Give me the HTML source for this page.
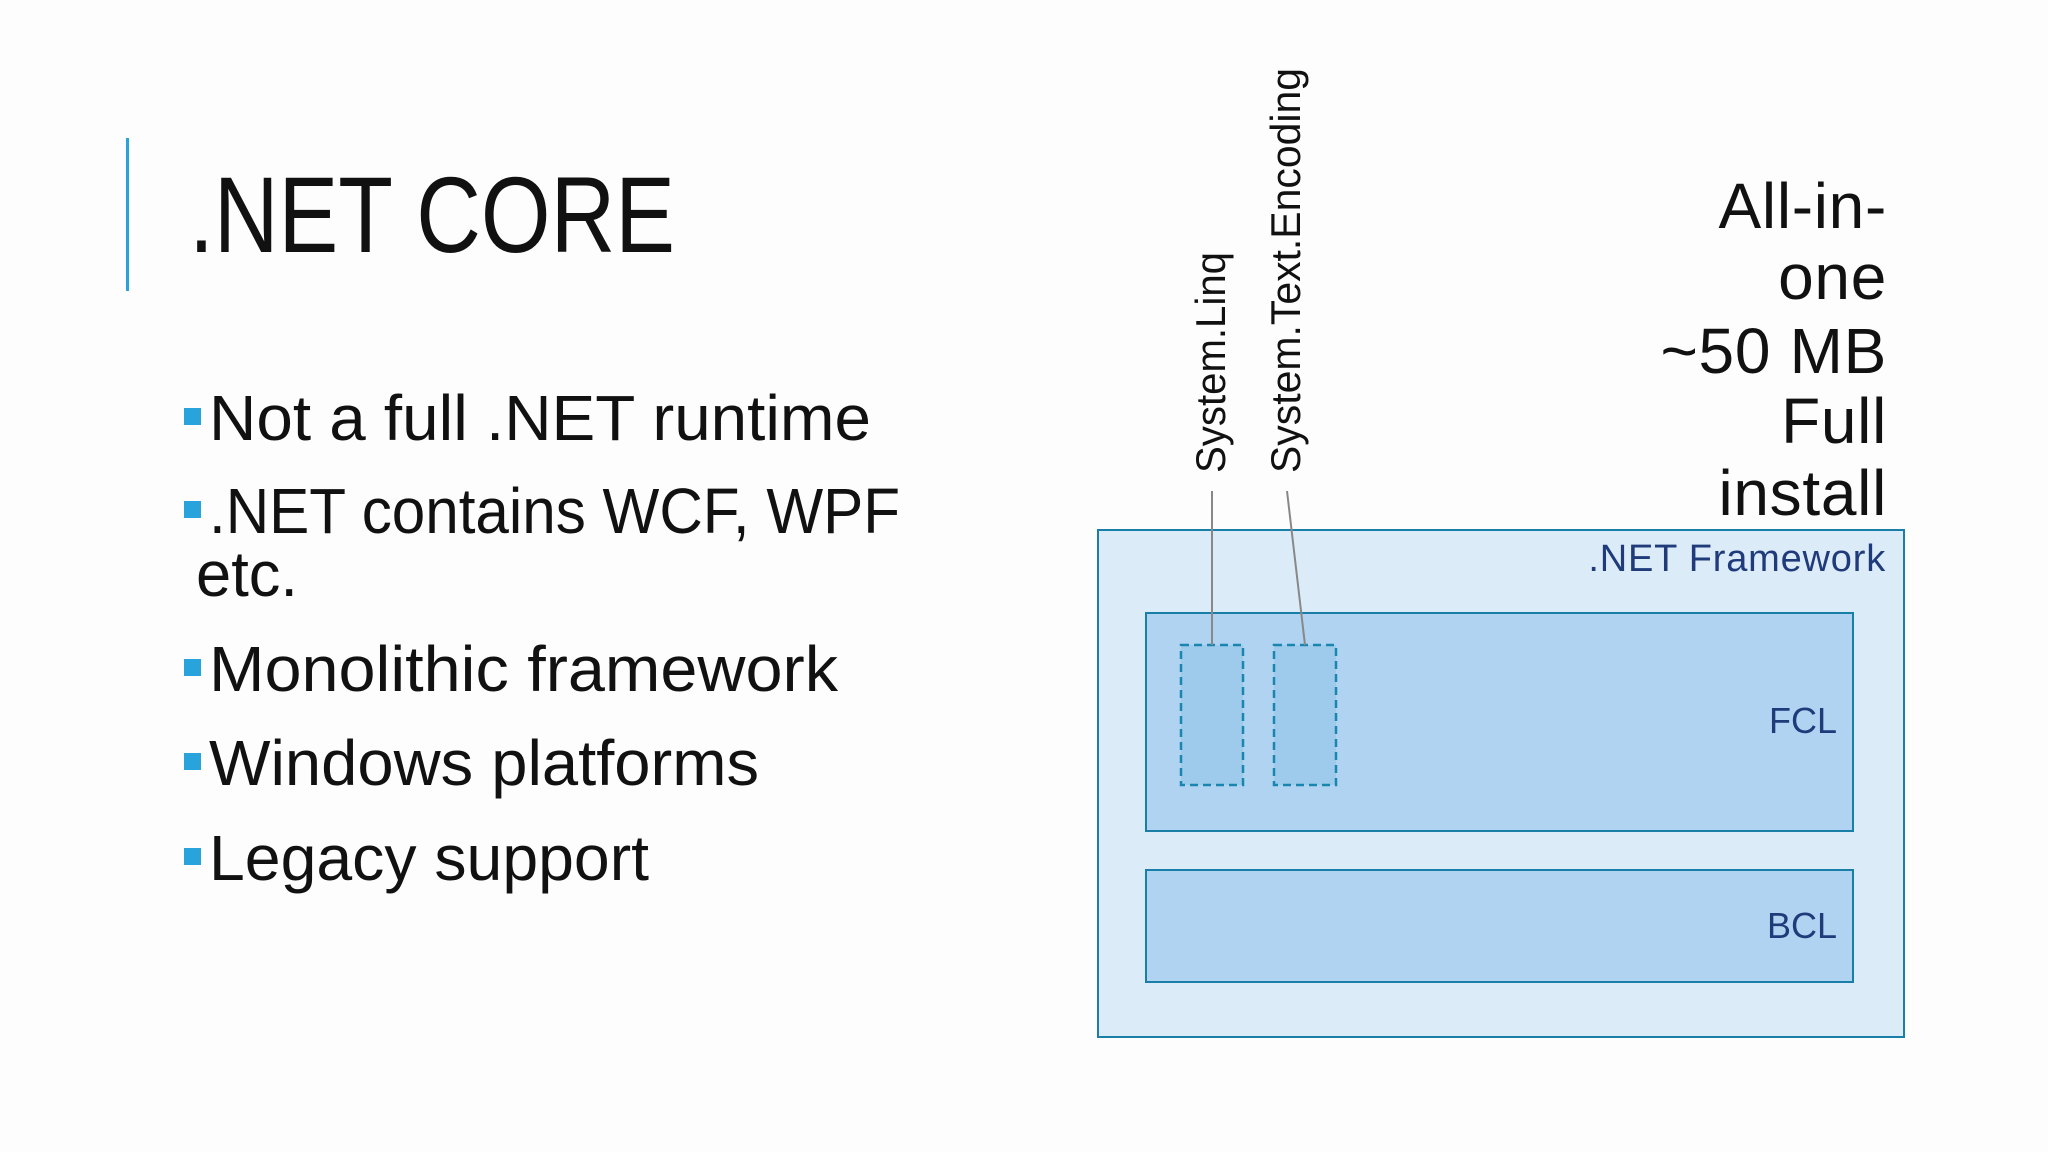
<!DOCTYPE html>
<html><head><meta charset="utf-8"><style>
html,body{margin:0;padding:0;background:#fdfdfd;}
svg{display:block;}
</style></head><body>
<svg width="2048" height="1152" viewBox="0 0 2048 1152" xmlns="http://www.w3.org/2000/svg">
<rect width="2048" height="1152" fill="#fdfdfd"/>
<rect x="126" y="138" width="3" height="153" fill="#29a3dc"/>
<text x="189" y="252" font-family="Liberation Sans, sans-serif" font-size="108" fill="#111" textLength="486" lengthAdjust="spacingAndGlyphs">.NET CORE</text>
<g font-family="Liberation Sans, sans-serif" font-size="64" fill="#111" lengthAdjust="spacingAndGlyphs">
<rect x="184" y="408" width="17" height="17" fill="#29a3dc"/>
<text x="209" y="440" textLength="662" lengthAdjust="spacingAndGlyphs">Not a full .NET runtime</text>
<rect x="184" y="501" width="17" height="17" fill="#29a3dc"/>
<text x="209" y="533" textLength="691" lengthAdjust="spacingAndGlyphs">.NET contains WCF, WPF</text>
<text x="196" y="596" textLength="102" lengthAdjust="spacingAndGlyphs">etc.</text>
<rect x="184" y="659" width="17" height="17" fill="#29a3dc"/>
<text x="209" y="691" textLength="629" lengthAdjust="spacingAndGlyphs">Monolithic framework</text>
<rect x="184" y="753" width="17" height="17" fill="#29a3dc"/>
<text x="209" y="785" textLength="550" lengthAdjust="spacingAndGlyphs">Windows platforms</text>
<rect x="184" y="848" width="17" height="17" fill="#29a3dc"/>
<text x="209" y="880" textLength="440" lengthAdjust="spacingAndGlyphs">Legacy support</text>
</g>
<g font-family="Liberation Sans, sans-serif" font-size="64" fill="#111" text-anchor="end" letter-spacing="0.7">
<text x="1887" y="228">All-in-</text>
<text x="1887" y="299">one</text>
<text x="1887" y="373">~50 MB</text>
<text x="1887" y="443">Full</text>
<text x="1887" y="515">install</text>
</g>
<rect x="1098" y="530" width="806" height="507" fill="#dcebf8" stroke="#1a7fa8" stroke-width="2"/>
<text x="1886" y="571" font-family="Liberation Sans, sans-serif" font-size="38" fill="#1f3b7a" text-anchor="end" letter-spacing="0.8">.NET Framework</text>
<rect x="1146" y="613" width="707" height="218" fill="#b1d3f2" stroke="#1a7fa8" stroke-width="2"/>
<text x="1837" y="733" font-family="Liberation Sans, sans-serif" font-size="36" fill="#1f3b7a" text-anchor="end">FCL</text>
<rect x="1146" y="870" width="707" height="112" fill="#b1d3f2" stroke="#1a7fa8" stroke-width="2"/>
<text x="1837" y="938" font-family="Liberation Sans, sans-serif" font-size="36" fill="#1f3b7a" text-anchor="end">BCL</text>
<rect x="1181" y="645" width="62" height="140" fill="#9ecbeb" stroke="#1a86b0" stroke-width="2.5" stroke-dasharray="8,5"/>
<rect x="1274" y="645" width="62" height="140" fill="#9ecbeb" stroke="#1a86b0" stroke-width="2.5" stroke-dasharray="8,5"/>
<line x1="1212" y1="491" x2="1212" y2="645" stroke="#888" stroke-width="2"/>
<line x1="1287" y1="491" x2="1305" y2="645" stroke="#888" stroke-width="2"/>
<g font-family="Liberation Sans, sans-serif" font-size="42" fill="#111">
<text transform="translate(1225,473) rotate(-90)" textLength="221" lengthAdjust="spacingAndGlyphs">System.Linq</text>
<text transform="translate(1300,473) rotate(-90)" textLength="405" lengthAdjust="spacingAndGlyphs">System.Text.Encoding</text>
</g>
</svg>
</body></html>
